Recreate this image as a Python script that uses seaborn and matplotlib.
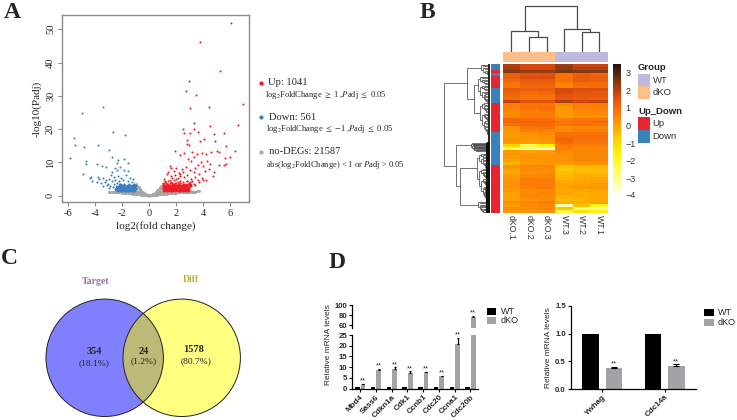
import matplotlib
matplotlib.use("Agg")
import matplotlib.pyplot as plt
import numpy as np
import pandas as pd
import seaborn as sns
from matplotlib.colors import LinearSegmentedColormap, ListedColormap
from matplotlib.patches import Circle, Rectangle

# volcano points (log2 fold change, -log10 padj)
up_x = [6.07, 3.78, 5.23, 2.94, 2.72, 3.48, 3.04, 4.44, 6.94, 6.57, 4.5, 3.28, 2.5, 2.54, 3.0, 3.3, 3.58, 4.8, 5.53,
        4.05, 3.78, 2.8, 2.8, 4.86, 5.7, 6.37, 5.95, 5.63, 2.94, 1.9, 2.3, 2.6, 3.2, 3.5, 3.9, 4.2, 4.6, 5.0, 5.2, 5.5,
        1.1, 1.3, 1.5, 1.6, 1.8, 2.0, 2.2, 2.4, 2.7, 2.9, 3.1, 3.3, 3.6, 3.8, 4.0, 4.3, 4.5, 4.8, 5.2, 5.7,
        1.4, 1.6, 1.9, 2.1, 2.3, 2.5, 2.8, 3.0, 3.3, 3.4, 3.7, 4.1, 4.4, 4.7, 1.2, 1.5, 1.7, 2.0, 2.3, 2.6, 2.8, 3.1, 3.4, 3.6, 3.9, 4.2,
        1.0, 1.1, 1.2, 1.3, 1.4, 1.5, 1.6, 1.7, 1.8, 1.9, 2.0, 2.1, 2.2, 2.3, 2.4, 2.5, 2.6, 2.7, 2.8, 2.9, 3.0, 3.1, 3.2, 3.4,
        1.1, 1.25, 1.4, 1.55, 1.7, 1.85, 2.0, 2.15, 2.3, 2.5, 2.75, 2.95, 3.3, 3.7, 4.0]
up_y = [52.0, 46.3, 37.5, 34.5, 31.4, 30.4, 26.3, 26.8, 27.6, 21.2, 20.9, 21.9, 19.9, 18.7, 18.8, 20.0, 19.0, 18.5, 18.9,
        17.1, 16.4, 16.7, 15.5, 16.4, 14.8, 13.5, 11.5, 11.4, 15.2, 13.4, 12.2, 12.8, 13.2, 12.4, 12.9, 12.5, 13.0, 13.5, 13.1, 9.2,
        5.1, 6.4, 9.0, 8.2, 7.3, 8.4, 6.8, 7.9, 8.6, 11.0, 10.5, 11.7, 9.2, 10.0, 8.8, 10.4, 9.5, 7.0, 9.1, 9.6,
        7.1, 6.0, 6.3, 5.2, 6.5, 7.1, 6.2, 7.6, 7.0, 8.2, 6.4, 7.4, 7.9, 6.0, 4.5, 4.7, 5.4, 4.9, 5.8, 5.6, 4.4, 5.0, 5.5, 4.8, 5.3, 4.6,
        3.7, 3.1, 4.0, 3.4, 4.4, 3.2, 4.2, 3.6, 4.6, 3.9, 3.3, 4.1, 3.5, 4.5, 3.2, 4.0, 3.6, 3.1, 4.3, 3.4, 4.1, 3.0, 4.4, 3.3,
        3.5, 3.8, 3.6, 3.9, 3.7, 3.4, 3.7, 3.5, 3.8, 3.6, 3.5, 3.9, 3.6, 4.2, 4.7]
up_core_x = [1.12, 1.3, 1.5, 1.7, 1.9, 2.1, 2.3, 2.5, 2.7, 2.85,
             1.12, 1.3, 1.5, 1.7, 1.9, 2.1, 2.3, 2.5, 2.7, 2.9,
             1.12, 1.3, 1.5, 1.7, 1.9, 2.1, 2.3, 2.5, 2.7, 3.0]
up_core_y = [1.6, 1.6, 1.6, 1.6, 1.6, 1.6, 1.65, 1.7, 1.75, 1.8,
             2.2, 2.2, 2.2, 2.2, 2.2, 2.2, 2.2, 2.25, 2.3, 2.4,
             2.8, 2.8, 2.8, 2.8, 2.8, 2.9, 2.9, 2.9, 3.0, 3.1]

down_x = [-5.01, -3.46, -5.56, -5.5, -4.84, -5.9, -3.8, -2.69, -1.83, -2.99, -2.74, -4.67, -4.69, -4.89, -3.88, -3.53, -3.21,
          -2.3, -1.9, -2.37, -1.56, -2.15, -2.55, -2.73, -2.4, -1.9, -1.55, -4.32, -4.37, -4.27, -3.78, -3.73, -3.9, -3.4,
          -3.2, -3.0, -2.85, -2.6, -2.3, -2.1, -1.75, -1.4, -1.2, -3.6, -3.3, -3.05, -2.8, -2.55, -2.25, -1.95, -1.6, -1.3,
          -3.4, -3.15, -2.9, -2.65, -2.4, -2.15, -1.85, -1.5, -1.1, -2.95, -2.7, -2.45, -2.2, -2.0, -1.8, -1.6, -1.4, -1.2, -1.05,
          -2.35, -2.15, -1.95, -1.75, -1.55, -1.35, -1.15, -1.0, -2.2, -2.0, -1.8, -1.6, -1.4, -1.2, -1.0, -1.05]
down_y = [24.9, 26.7, 17.3, 15.1, 14.7, 11.3, 15.2, 19.1, 18.2, 13.8, 11.7, 10.3, 9.4, 6.4, 9.5, 8.9, 8.5,
          10.7, 10.9, 9.7, 9.9, 8.7, 8.2, 7.2, 7.7, 7.7, 7.5, 5.5, 5.2, 4.3, 5.7, 5.0, 4.2, 5.3,
          4.6, 5.1, 6.3, 5.7, 6.0, 5.2, 6.1, 5.4, 4.9, 3.7, 4.1, 3.6, 4.4, 4.8, 4.3, 4.6, 4.4, 4.1,
          2.9, 3.2, 3.0, 3.5, 3.7, 3.4, 3.6, 3.4, 3.6, 2.2, 2.5, 2.8, 2.6, 2.9, 2.7, 3.0, 2.7, 3.0, 2.5,
          2.3, 2.2, 2.4, 2.3, 2.4, 2.3, 2.4, 1.9, 3.1, 3.2, 3.1, 3.3, 3.2, 3.3, 3.1, 2.9]
down_core_x = [-1.12, -1.3, -1.5, -1.7, -1.9, -2.1, -2.3, -2.5,
               -1.12, -1.3, -1.5, -1.7, -1.9, -2.1, -2.3,
               -1.12, -1.3, -1.55, -1.85, -2.15]
down_core_y = [1.6, 1.6, 1.6, 1.6, 1.65, 1.7, 1.8, 1.9,
               2.2, 2.2, 2.2, 2.25, 2.3, 2.4, 2.5,
               2.8, 2.9, 2.9, 3.0, 3.1]

grey_x = [0.0, 0.05, 0.1, 0.15, 0.2, 0.25, 0.3, 0.3, 0.4, 0.4, 0.5, 0.5, 0.5, 0.6, 0.6, 0.6, 0.7, 0.7, 0.7, 0.8, 0.8, 0.8, 0.9, 0.9, 0.9, 0.9, 0.98, 0.98, 0.98, 0.98, 0.98,
          1.1, 1.2, 1.3, 1.4, 1.5, 1.6, 1.7, 1.8, 1.9, 2.0, 2.1, 2.2, 2.3, 2.4, 2.5, 2.6, 2.7, 2.8, 2.9, 3.0, 3.1, 3.2, 3.3, 3.4, 3.5, 3.65,
          1.1, 1.3, 1.5, 1.7, 1.9, 2.1, 2.3, 2.5, 2.7, 2.9, 3.1, 1.0, 1.2, 1.4, 1.6, 1.8, 2.0,
          -0.05, -0.1, -0.15, -0.2, -0.25, -0.3, -0.3, -0.4, -0.4, -0.5, -0.5, -0.5, -0.6, -0.6, -0.6, -0.7, -0.7, -0.7, -0.8, -0.8, -0.8, -0.9, -0.9, -0.9, -0.9, -0.98, -0.98, -0.98, -0.98, -0.98,
          -1.1, -1.2, -1.3, -1.4, -1.5, -1.6, -1.7, -1.8, -1.9, -2.0, -2.1, -2.2, -2.3, -2.4, -2.5, -2.6, -2.7, -2.8, -2.9, -3.0,
          -1.1, -1.3, -1.5, -1.7, -1.9, -2.1, -2.3, -2.5, -1.0, -1.2, -1.4, -1.6, -1.8, -2.0]
grey_y = [0.0, 0.1, 0.1, 0.2, 0.3, 0.4, 0.2, 0.6, 0.3, 0.9, 0.3, 0.8, 1.2, 0.3, 0.9, 1.6, 0.4, 1.1, 2.0, 0.4, 1.4, 2.5, 0.4, 1.2, 2.2, 3.0, 0.4, 1.1, 1.9, 2.7, 3.5,
          0.5, 0.6, 0.6, 0.7, 0.7, 0.8, 0.8, 0.8, 0.9, 0.9, 1.0, 1.0, 1.0, 1.1, 1.1, 1.1, 1.2, 1.2, 1.2, 1.2, 1.2, 1.25, 1.25, 1.25, 1.3, 1.3,
          1.0, 1.1, 1.1, 1.15, 1.2, 1.2, 1.25, 1.25, 1.3, 1.3, 1.3, 1.0, 0.9, 0.9, 1.0, 1.1, 1.15,
          0.1, 0.1, 0.2, 0.3, 0.4, 0.2, 0.6, 0.3, 0.9, 0.3, 0.8, 1.2, 0.3, 0.9, 1.6, 0.4, 1.1, 2.0, 0.4, 1.4, 2.5, 0.4, 1.2, 2.2, 3.0, 0.4, 1.1, 1.9, 2.7, 3.5,
          0.5, 0.6, 0.6, 0.7, 0.7, 0.8, 0.8, 0.8, 0.9, 0.9, 1.0, 1.0, 1.0, 1.1, 1.1, 1.1, 1.2, 1.2, 1.2, 1.25,
          1.0, 1.1, 1.1, 1.15, 1.2, 1.2, 1.25, 1.25, 1.0, 0.9, 0.9, 1.0, 1.1, 1.15]

# heatmap, columns in display order
samples = ["dKO.1", "dKO.2", "dKO.3", "WT.3", "WT.2", "WT.1"]
expr_rows = [
    [2.1, 1.7, 1.7, 2.3, 1.9, 1.9], [2.2, 1.8, 1.8, 2.4, 2.1, 2.1], [2.5, 2.3, 2.3, 2.6, 2.5, 2.5],
    [1.2, 1.5, 1.5, 0.9, 1.2, 1.1], [1.3, 1.6, 1.7, 0.9, 1.3, 1.3], [1.1, 1.3, 1.3, 0.9, 1.3, 1.2],
    [0.9, 1.2, 1.2, 0.6, 1.0, 1.0], [0.8, 1.1, 1.1, 0.5, 0.9, 1.0], [1.3, 1.2, 1.3, 1.7, 1.6, 1.6],
    [1.2, 1.0, 1.1, 1.7, 1.5, 1.4], [1.1, 0.9, 0.9, 1.5, 1.4, 1.4], [1.0, 0.8, 0.8, 1.4, 1.3, 1.2],
    [1.9, 1.5, 1.5, 2.1, 1.8, 1.9], [0.7, 0.8, 0.8, 0.4, 0.7, 0.7], [0.6, 0.8, 0.9, 0.2, 0.6, 0.6],
    [0.5, 0.7, 0.8, 0.1, 0.5, 0.5], [0.4, 0.7, 0.7, 0.2, 0.4, 0.5], [0.4, 0.7, 0.7, 0.1, 0.3, 0.3],
    [1.0, 1.0, 1.0, 0.7, 0.8, 0.8], [1.1, 1.1, 1.1, 0.8, 0.9, 1.0], [0.9, 1.0, 1.0, 0.8, 0.9, 0.8],
    [0.3, 0.8, 0.9, 0.4, 0.5, 0.5], [0.2, 0.6, 0.6, 0.5, 0.6, 0.6], [0.1, 0.3, 0.4, 0.9, 0.9, 0.9],
    [0.1, 0.2, 0.3, 1.0, 1.0, 1.0], [0.2, 0.2, 0.2, 1.1, 0.9, 0.9], [0.1, 0.1, 0.2, 1.0, 0.8, 0.8],
    [-0.9, -2.4, -1.5, 0.7, 0.6, 0.6], [-2.5, -3.0, -3.9, 0.6, 0.5, 0.5], [0.1, -0.1, 0.0, 0.4, 0.5, 0.5],
    [0.2, 0.2, 0.2, 0.3, 0.5, 0.5], [0.1, 0.3, 0.3, 0.3, 0.5, 0.5], [-0.1, 0.2, 0.2, 0.3, 0.5, 0.5],
    [-0.3, 0.1, 0.2, 0.1, 0.3, 0.3], [0.2, 0.5, 0.5, -0.5, -0.3, -0.3], [0.0, 0.4, 0.4, -0.7, -0.5, -0.4],
    [-0.2, 0.3, 0.3, -0.5, -0.4, -0.5], [0.1, 0.4, 0.5, -0.4, -0.2, -0.2], [0.2, 0.6, 0.6, -0.3, -0.2, -0.1],
    [0.3, 0.6, 0.7, -0.2, -0.1, 0.0], [0.2, 0.7, 0.7, -0.1, 0.0, 0.1], [0.3, 0.6, 0.7, 0.0, 0.1, 0.1],
    [0.1, 0.4, 0.5, -0.2, -0.1, 0.0], [0.0, 0.4, 0.5, -0.1, -0.2, -0.1], [0.0, 0.5, 0.4, -0.3, -0.2, -0.2],
    [-0.1, 0.3, 0.4, -0.4, -0.3, -0.1], [0.3, 0.5, 0.6, -0.2, -0.2, 0.0], [0.1, 0.4, 0.5, -3.4, -0.5, -1.7],
    [0.3, 0.4, 0.5, -0.6, -2.8, -3.2], [0.1, 0.2, 0.3, -2.2, -1.2, -1.6],
]
# 0 = Up, 1 = Down
row_group = [1, 1, 0, 1, 0, 0, 0, 0, 1, 1, 1, 1, 1, 0, 0, 0, 0, 0, 0, 0, 0, 0, 0, 1, 1, 1, 1, 1, 1, 1, 1, 1, 1, 1,
             0, 0, 0, 0, 0, 0, 0, 0, 0, 0, 0, 0, 0, 0, 0, 0]
col_group = [1, 1, 1, 0, 0, 0]

# qPCR bars
genes_left = ["Mbd4", "Sass6", "Cdkn1a", "Cdk1", "Ccnb1", "Cdc20", "Ccna1", "Cdc20b"]
wt_left = [1, 1, 1, 1, 1, 1, 1, 1]
ko_left = [2.1, 8.7, 9.2, 7.2, 7.7, 5.7, 20.7, 77]
ko_left_err = [0.3, 0.5, 0.8, 0.9, 0.3, 0.4, 3.0, 1.5]
genes_right = ["Ywhag", "Cdc14a"]
wt_right = [1, 1]
ko_right = [0.39, 0.42]
ko_right_err = [0.015, 0.03]

W, H = 737, 420


def box(x0, y0, x1, y1, **kw):
    # axes from picture pixels
    return fig.add_axes([x0 / W, 1 - y1 / H, (x1 - x0) / W, (y1 - y0) / H], **kw)


def tree_split(rows, h, shrink=0.72):
    # top-heavy ladder, like the clustering in the original
    if len(rows) == 1:
        return rows[0]
    mid = max(1, len(rows) // 3)
    return (h, tree_split(rows[:mid], h * shrink, shrink), tree_split(rows[mid:], h * shrink, shrink))


def draw_tree(ax, node, horizontal):
    # returns leaf position and height of node
    if not isinstance(node, tuple):
        return node, 0
    h, left, right = node
    p0, h0 = draw_tree(ax, left, horizontal)
    p1, h1 = draw_tree(ax, right, horizontal)
    xs, ys = [p0, p0, p1, p1], [h0, h, h, h1]
    if horizontal:
        ax.plot(ys, xs, color="#4a4a4a", lw=0.55, solid_joinstyle="miter")
    else:
        ax.plot(xs, ys, color="#4a4a4a", lw=0.9, solid_joinstyle="miter")
    return (p0 + p1) / 2, h


sns.set_theme(style="white")
plt.rcParams["font.family"] = ["Liberation Sans", "DejaVu Sans"]
plt.rcParams["mathtext.fontset"] = "stix"
plt.rcParams["axes.unicode_minus"] = False
fig = plt.figure(figsize=(W / 100, H / 100), dpi=100)
SERIF = ["Liberation Serif", "DejaVu Serif"]

# A: volcano
ax = box(62, 15, 249, 202)
sns.scatterplot(x=grey_x, y=grey_y, color="#a6a6a6", s=4.5, linewidth=0, ax=ax)
sns.scatterplot(x=down_x, y=down_y, color="#3a80c0", s=2.2, linewidth=0, ax=ax)
sns.scatterplot(x=down_core_x, y=down_core_y, color="#3a80c0", s=8, linewidth=0, ax=ax)
sns.scatterplot(x=up_x, y=up_y, color="#ee1c25", s=2.2, linewidth=0, ax=ax)
sns.scatterplot(x=up_core_x, y=up_core_y, color="#ee1c25", s=8, linewidth=0, ax=ax)
ax.set_xlim(-6.47, 7.39)
ax.set_ylim(-1.9, 54.3)
ax.set_xticks([-6, -4, -2, 0, 2, 4, 6])
ax.set_yticks([0, 10, 20, 30, 40, 50])
for s in ax.spines.values():
    s.set_color("#8c8c8c")
    s.set_linewidth(1.0)
ax.tick_params(length=3, width=0.8, color="#8c8c8c", labelsize=7.5, pad=2, left=True, bottom=True)
for t in ax.get_xticklabels() + ax.get_yticklabels():
    t.set_family(SERIF)
for t in ax.get_yticklabels():
    t.set_rotation(90)
    t.set_va("center")
ax.set_xlabel("log2(fold change)", family=SERIF, fontsize=8, labelpad=2)
ax.set_ylabel("-log10(Padj)", family=SERIF, fontsize=8, labelpad=3)

# B: heatmap
expr = np.array(expr_rows)
heat_cmap = LinearSegmentedColormap.from_list("heat", [
    (0.0, "#ffffe6"), (0.2, "#ffff50"), (0.33, "#fff000"), (0.44, "#ffc800"), (0.53, "#ffa000"),
    (0.66, "#f86c08"), (0.76, "#d84a10"), (0.86, "#8b3a10"), (1.0, "#1c1410")])
ax_heat = box(502.7, 64, 608, 212.7)
ax_cb = box(612.7, 64.3, 621.3, 194.3)
sns.heatmap(expr, cmap=heat_cmap, vmin=-3.92, vmax=3.48, ax=ax_heat, cbar_ax=ax_cb,
            xticklabels=False, yticklabels=False, linewidths=0, rasterized=True)
ax_cb.tick_params(length=0, labelsize=6.5, pad=3, labelcolor="#333333")
ax_cb.set_yticks([3, 2, 1, 0, -1, -2, -3])
ax_cb.set_yticklabels(["3", "2", "1", "0", "\u22121", "\u22122", "\u22123"])

ax_top = box(502.7, 52.3, 608, 61.7)
sns.heatmap(np.array([col_group]), cmap=ListedColormap(["#bebadb", "#fdbf8a"]), cbar=False, ax=ax_top,
            xticklabels=False, yticklabels=False, vmin=0, vmax=1)
ax_side = box(490.7, 64, 500, 212.7)
sns.heatmap(np.array(row_group)[:, None], cmap=ListedColormap(["#e8242e", "#3a80ba"]), cbar=False, ax=ax_side,
            xticklabels=False, yticklabels=False, vmin=0, vmax=1)

# dendrograms
ax_dt = box(502.7, 4, 608, 51.7)
top_tree = (46, (21, 0.5, (14.4, 1.5, 2.5)), (23, 3.5, (19.7, 4.5, 5.5)))
draw_tree(ax_dt, top_tree, False)
ax_dt.set_xlim(0, 6)
ax_dt.set_ylim(0, 47.7)
ax_dt.axis("off")

rows_fine = [r / 2 + 0.25 for r in range(100)]
upper = (23, tree_split(rows_fine[:8], 9, 0.7), (16, tree_split(rows_fine[8:26], 12, 0.78), tree_split(rows_fine[26:48], 10, 0.78)))
fan_rows = [26.6, 26.8, 27.0, 27.2, 27.4, 27.6, 27.8, 28.0, 28.2, 28.4, 28.6, 28.8, 29.0, 29.2]
lower_mid = tree_split(rows_fine[60:92], 13, 0.82)
lower_end = tree_split(rows_fine[92:], 12, 0.85)
left_tree = (45.7, upper, (34, tree_split(fan_rows, 19, 0.93), (29.7, lower_mid, lower_end)))
ax_dl = box(430, 64, 489.7, 212.7)
draw_tree(ax_dl, left_tree, True)
ax_dl.plot([1, 1], [0, 27], color="#222222", lw=1.4)
ax_dl.plot([2, 2], [27, 50], color="#111111", lw=3.0)
ax_dl.set_xlim(59.7, 0)
ax_dl.set_ylim(50, 0)
ax_dl.axis("off")

# D: broken-axis bars
df_left = pd.DataFrame({"gene": genes_left * 2, "group": ["WT"] * 8 + ["dKO"] * 8, "value": wt_left + ko_left})
bar_colors = {"WT": "#000000", "dKO": "#a3a3a5"}
ax_low = box(352, 335, 478.3, 388.7)
ax_up = box(352, 305, 478.3, 328)
for a in (ax_low, ax_up):
    sns.barplot(data=df_left, x="gene", y="value", hue="group", palette=bar_colors, width=0.72, gap=0.175,
                errorbar=None, legend=False, saturation=1, linewidth=0, ax=a)
    a.errorbar(np.arange(8) + 0.18, ko_left, yerr=[[0] * 8, ko_left_err], fmt="none", ecolor="black",
               elinewidth=0.9, capsize=1.0, capthick=0.8)
    a.set_xlim(-0.52, 7.5)
    a.set_xlabel("")
    a.set_ylabel("")
    sns.despine(ax=a)
    a.spines["left"].set_linewidth(0.9)
    a.spines["bottom"].set_linewidth(0.9)
    a.spines["left"].set_color("black")
    a.spines["bottom"].set_color("black")
    a.tick_params(left=True, length=2.5, width=0.8, labelsize=5.6, pad=1, color="black")
ax_low.set_ylim(0, 25)
ax_low.set_yticks([0, 5, 10, 15, 20, 25])
ax_up.set_ylim(54, 100)
ax_up.set_yticks([60, 80, 100])
ax_up.spines["bottom"].set_visible(False)
ax_up.tick_params(bottom=False, labelbottom=False)
ax_low.tick_params(bottom=True)
ax_low.set_xticks(range(8))
ax_low.set_xticklabels(genes_left, rotation=45, ha="right", rotation_mode="anchor", fontsize=5.8, fontweight="bold")
for t in ax_low.get_yticklabels() + ax_up.get_yticklabels():
    t.set_fontweight("bold")
for i, (v, e) in enumerate(zip(ko_left, ko_left_err)):
    target = ax_up if v > 25 else ax_low
    target.annotate("**", (i + 0.18, v + e), xytext=(0, -0.5), textcoords="offset points", ha="center", va="bottom",
                    fontsize=5.5, annotation_clip=False)

df_right = pd.DataFrame({"gene": genes_right * 2, "group": ["WT"] * 2 + ["dKO"] * 2, "value": wt_right + ko_right})
ax_r = box(570.7, 305.7, 695.7, 389.3)
sns.barplot(data=df_right, x="gene", y="value", hue="group", palette=bar_colors, width=0.752, gap=0.287,
            errorbar=None, legend=False, saturation=1, linewidth=0, ax=ax_r)
ax_r.errorbar(np.arange(2) + 0.188, ko_right, yerr=[[0, 0], ko_right_err], fmt="none", ecolor="black",
              elinewidth=0.9, capsize=2.5, capthick=0.8)
ax_r.set_xlim(-0.508, 1.5)
ax_r.set_ylim(0, 1.5)
ax_r.set_yticks([0, 0.5, 1.0, 1.5])
ax_r.set_yticklabels(["0.0", "0.5", "1.0", "1.5"], fontweight="bold")
ax_r.set_xlabel("")
ax_r.set_ylabel("Relative mRNA levels", fontsize=6, labelpad=2)
sns.despine(ax=ax_r)
ax_r.spines["left"].set_color("black")
ax_r.spines["bottom"].set_color("black")
ax_r.spines["left"].set_linewidth(0.9)
ax_r.spines["bottom"].set_linewidth(0.9)
ax_r.tick_params(left=True, bottom=True, length=2.5, width=0.8, labelsize=5.6, pad=1, color="black")
ax_r.set_xticks(range(2))
ax_r.set_xticklabels(genes_right, rotation=45, ha="right", rotation_mode="anchor", fontsize=5.8, fontweight="bold")
ax_r.tick_params(axis="x", pad=0.5)
for i, (v, e) in enumerate(zip(ko_right, ko_right_err)):
    ax_r.annotate("**", (i + 0.188, v + e), xytext=(0, -0.5), textcoords="offset points", ha="center", va="bottom",
                  fontsize=5.5)

# everything placed by picture pixel
ov = fig.add_axes([0, 0, 1, 1], zorder=10)
ov.set_xlim(0, W)
ov.set_ylim(H, 0)
ov.axis("off")

for label, x, y in [("A", 12.5, 13), ("B", 427, 12), ("C", 9, 259), ("D", 337, 263)]:
    ov.text(x, y, label, family=SERIF, fontsize=17, fontweight="bold", ha="center", va="center")

# legend text of A
ov.scatter([261], [82.7], s=9, color="#ee1c25", linewidth=0)
ov.scatter([261], [117.3], s=9, color="#3a80c0", linewidth=0)
ov.scatter([261], [152], s=9, color="#a6a6a6", linewidth=0)
for x, y, s in [(268, 82.7, "Up: 1041"), (268.7, 117.3, "Down: 561"), (268.7, 152, "no-DEGs: 21587")]:
    ov.text(x, y, s, family=SERIF, fontsize=7.6, va="center")
for x, y, s in [(265.3, 95, r"log$_2$FoldChange $\geq$ 1 ,$\mathit{P}$adj $\leq$ 0.05"),
                (266, 128.7, r"log$_2$FoldChange $\leq$ $-$1 ,$\mathit{P}$adj $\leq$ 0.05"),
                (266, 164.7, r"abs(log$_2$FoldChange) < 1 or $\mathit{P}$adj > 0.05")]:
    ov.text(x, y, s, family=SERIF, fontsize=6.1, va="center")

# heatmap labels and legend
for i, s in enumerate(samples):
    ov.text(502.7 + 17.55 * (i + 0.5), 215, s, rotation=-90, fontsize=6.3, ha="center", va="top", color="#333333")
ov.text(638, 67.7, "Group", fontsize=6.8, fontweight="bold", va="center")
ov.text(638, 111.7, "Up_Down", fontsize=6.8, fontweight="bold", va="center")
for y, c, s in [(74, "#bebadb", "WT"), (86.3, "#fdbf8a", "dKO"), (117.3, "#e8242e", "Up"), (130.3, "#3a80ba", "Down")]:
    ov.add_patch(Rectangle((637.7, y), 12.3, 12.3, color=c, lw=0))
    ov.text(652.7, y + 6.2, s, fontsize=6.8, va="center", color="#333333")
ov.text(621.3 + 4, 195.7, "\u22124", fontsize=6.5, va="center", color="#333333")

# C: venn
left_c = Circle((104.7, 357.8), 58.7, facecolor="#8080ff", edgecolor="none")
right_c = Circle((181.7, 357.8), 58.7, facecolor="#ffff80", edgecolor="none")
ov.add_patch(left_c)
ov.add_patch(right_c)
lens = Circle((104.7, 357.8), 58.7, facecolor="#bdb976", edgecolor="none")
ov.add_patch(lens)
lens.set_clip_path(Circle((181.7, 357.8), 58.7, transform=ov.transData))
for cx in (104.7, 181.7):
    ov.add_patch(Circle((cx, 357.8), 58.7, fill=False, edgecolor="#222222", lw=0.7))
ov.text(95.7, 282, "Target", family=SERIF, fontsize=7, fontweight="bold", color="#9a6cb8", ha="center", va="center")
ov.text(191.3, 280, "Diff", family=SERIF, fontsize=7, fontweight="bold", color="#bdb040", ha="center", va="center")
for x, y, s, fw in [(94.3, 351.7, "354", "bold"), (94.3, 362.7, "(18.1%)", "normal"), (143.7, 351, "24", "bold"),
                    (143.7, 361.3, "(1.2%)", "normal"), (193.7, 350, "1578", "bold"), (196, 361.3, "(80.7%)", "normal")]:
    ov.text(x, y, s, family=SERIF, fontsize=7.5 if fw == "bold" else 6.8, fontweight=fw, ha="center", va="center")

# D: legends and left y label
ov.text(328.5, 345, "Relative mRNA levels", rotation=90, fontsize=6, ha="center", va="center")
for x, ys, tx in [(486.7, (307.7, 317.3), 500.7), (704, (309, 318.7), 718)]:
    for y, c, s in zip(ys, ("#000000", "#a3a3a5"), ("WT", "dKO")):
        ov.add_patch(Rectangle((x, y), 9.6, 7, color=c, lw=0))
        ov.text(tx, y + 3.5, s, fontsize=6.5, va="center")

fig.savefig("out.png", dpi=100)
